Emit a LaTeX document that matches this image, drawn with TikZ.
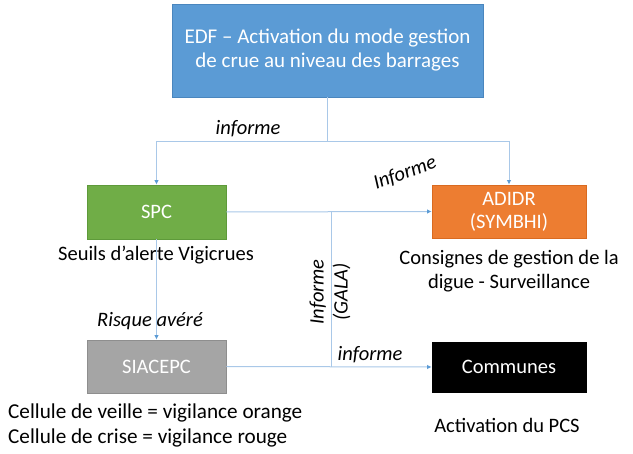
\documentclass[tikz,border=0pt]{standalone}
\usepackage{fontspec}
\setmainfont{Carlito}
\usetikzlibrary{arrows.meta,calc}
\definecolor{edfblue}{HTML}{5B9BD5}
\definecolor{edfborder}{HTML}{4A86BE}
\definecolor{spcgreen}{HTML}{70AD47}
\definecolor{spcborder}{HTML}{5E9A3A}
\definecolor{adorange}{HTML}{ED7D31}
\definecolor{adborder}{HTML}{D96A20}
\definecolor{siagrey}{HTML}{A5A5A5}
\definecolor{siaborder}{HTML}{8E8E8E}
\definecolor{linkblue}{HTML}{A9C8E8}
\definecolor{tipblue}{HTML}{5B9BD5}
\begin{document}
\begin{tikzpicture}[x=1pt,y=-1pt,
  every node/.style={font=\fontsize{20.5}{24}\selectfont, inner sep=0pt},
  box/.style={draw=#1, line width=0.8pt, text=white, align=center},
  link/.style={draw=linkblue, line width=1pt},
  arr/.style={link, -{Latex[length=4.5pt,width=4.5pt,color=tipblue]}},
  lab/.style={font=\fontsize{20.5}{24}\selectfont\itshape, text=black},
  note/.style={text=black, align=center}
]
\useasboundingbox[fill=white] (0,0) rectangle (633,454);

\node[box=edfborder, fill=edfblue, minimum width=311pt, minimum height=93pt,
  font=\fontsize{21}{24}\selectfont] (edf) at (327.5,50.5)
  {EDF -- Activation du mode gestion\\de crue au niveau des barrages};
\node[box=spcborder, fill=spcgreen, minimum width=139pt, minimum height=54pt] (spc) at (156.5,212) {SPC};
\node[box=adborder, fill=adorange, minimum width=154pt, minimum height=53pt,
  font=\fontsize{20.5}{23}\selectfont] (adidr) at (509,211.5) {ADIDR\\(SYMBHI)};
\node[box=siaborder, fill=siagrey, minimum width=139pt, minimum height=53pt] (sia) at (156.5,366.5) {SIACEPC};
\node[box=black, fill=black, minimum width=154pt, minimum height=50pt] (com) at (509,367) {Communes};

\node[note] (seuils) at (156,255) {Seuils d'alerte Vigicrues};
\node[note] (consignes) at (509,271) {Consignes de gestion de la\\digue - Surveillance};
\node[note, anchor=west, align=left, font=\fontsize{21.2}{25}\selectfont] (cellule) at (8,425)
  {Cellule de veille = vigilance orange\\Cellule de crise = vigilance rouge};
\node[note] (pcs) at (507,425) {Activation du PCS};

\coordinate (j1) at (edf.south |- 0,142);
\draw[link] (edf.south) -- (j1);
\draw[arr] (j1) -| (spc.north);
\draw[arr] (j1) -| (adidr.north);
\draw[arr] (spc.east) -- (adidr.west);
\coordinate (vtop) at (331,212);
\coordinate (vbot) at (331,367);
\draw[link] (vtop) -- (vbot);
\draw[arr] (spc.south) -- (sia.north);
\draw[arr] (sia.east) -- (com.west);

\node[lab] (l1) at (248,129) {informe};
\node[lab, rotate=20] (l2) at (405,173) {Informe};
\node[lab, rotate=90, align=center] (l3) at (330,292) {Informe\\(GALA)};
\node[lab] (l4) at (150,321) {Risque avéré};
\node[lab] (l5) at (370,355) {informe};
\end{tikzpicture}
\end{document}
